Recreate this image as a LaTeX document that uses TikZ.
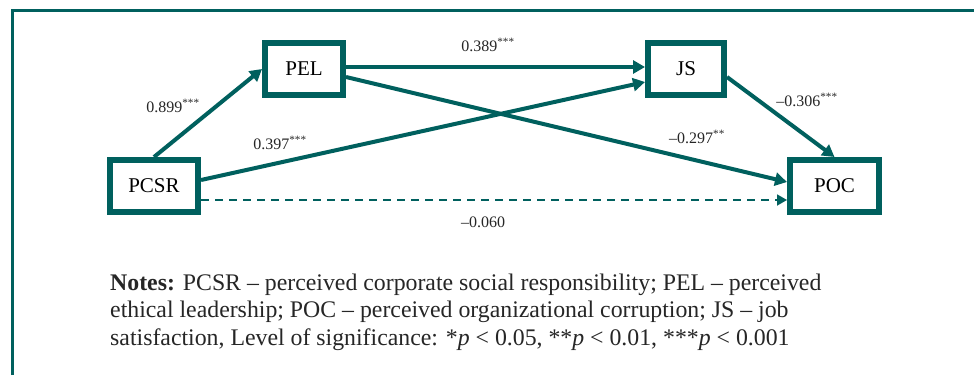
\documentclass[tikz,border=0pt]{standalone}
\usepackage{fontspec}
\setmainfont{Liberation Serif}
\usetikzlibrary{arrows.meta}
\definecolor{teal1}{RGB}{0,96,94}
\tikzset{
  box/.style={draw=teal1, line width=6pt, fill=white, inner sep=0pt, minimum height=52pt, font=\fontsize{21}{24}\selectfont},
  conn/.style={draw=teal1, line width=4pt, -{Triangle[length=12pt,width=13pt]}},
  dconn/.style={draw=teal1, line width=1.8pt, dash pattern=on 8pt off 6pt, -{Triangle[length=10pt,width=11pt]}},
  lbl/.style={font=\fontsize{16}{18}\selectfont, inner sep=0pt, text=black!85}
}
\newcommand{\stars}[1]{\textsuperscript{#1}}
\begin{document}
\begin{tikzpicture}[x=1pt,y=-1pt]
\useasboundingbox (0,0) rectangle (974,375);
\fill[white] (0,0) rectangle (974,375);
\draw[teal1, line width=3.5pt] (12.5,375) -- (12.5,10.5) -- (974,10.5);
\node[box, minimum width=78pt] (PEL) at (304,69) {PEL};
\node[box, minimum width=88pt] (PCSR) at (154,186) {PCSR};
\node[box, minimum width=76pt] (JS) at (686,69) {JS};
\node[box, minimum width=89pt] (POC) at (834.5,186) {POC};
\draw[conn] (PCSR.north) -- (PEL.west);
\draw[conn] ([yshift=2pt]PEL.east) -- ([yshift=2pt]JS.west);
\draw[conn] ([yshift=6pt]PCSR.east) -- ([yshift=-13pt]JS.west);
\draw[conn] ([yshift=-8pt]PEL.east) -- ([yshift=4pt]POC.west);
\draw[conn] ([yshift=-8pt]JS.east) -- (POC.north);
\draw[dconn] ([yshift=-14pt]PCSR.east) -- ([yshift=-14pt]POC.west);
\node[lbl] (l1) at (488,45) {0.389\stars{***}};
\node[lbl] (l2) at (173,106) {0.899\stars{***}};
\node[lbl] (l3) at (280,143) {0.397\stars{***}};
\node[lbl] (l4) at (807,100) {–0.306\stars{***}};
\node[lbl] (l5) at (697,137) {–0.297\stars{**}};
\node[lbl] (l6) at (483,222) {–0.060};
\node[anchor=base west, inner sep=0pt, align=left, text=black!85, font=\fontsize{23.8}{27.5}\selectfont] (notes) at (110,345)
{\textbf{Notes:} PCSR – perceived corporate social responsibility; PEL – perceived\\
ethical leadership; POC – perceived organizational corruption; JS – job\\
satisfaction, Level of significance: *\textit{p} < 0.05, **\textit{p} < 0.01, ***\textit{p} < 0.001};
\end{tikzpicture}
\end{document}
